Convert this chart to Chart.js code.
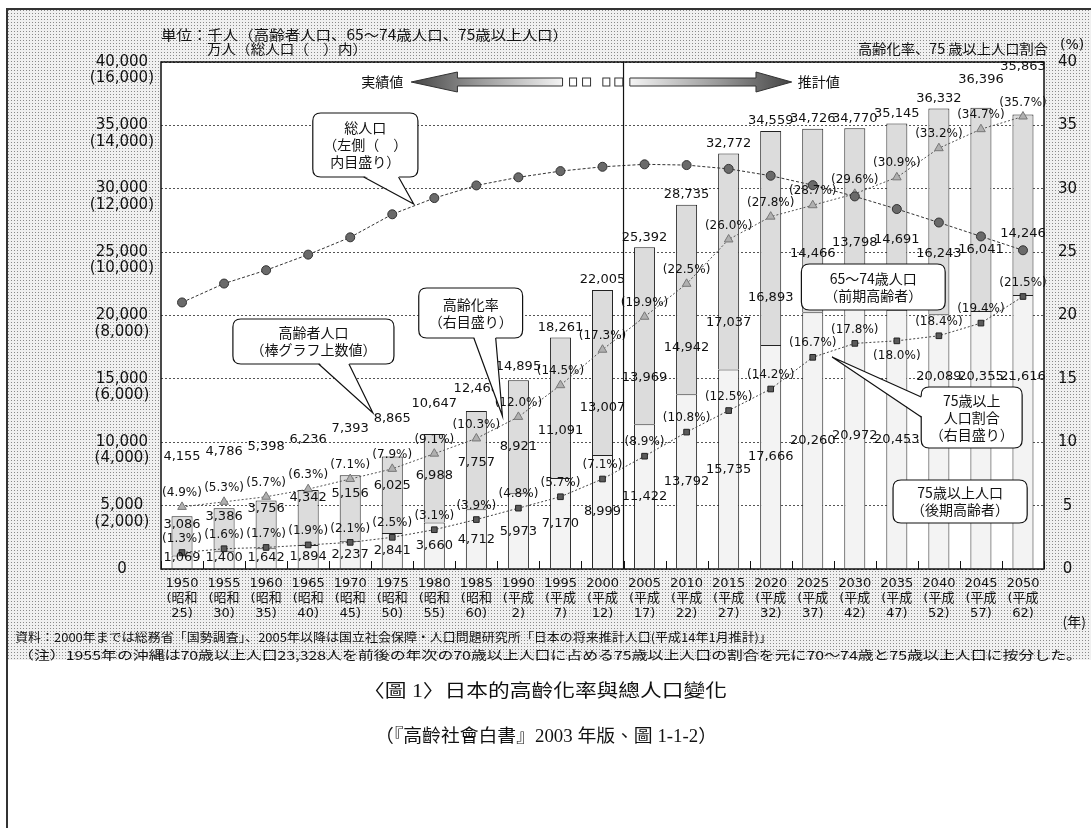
<!DOCTYPE html>
<html><head><meta charset="utf-8">
<script src="https://cdn.jsdelivr.net/npm/chart.js@4.4.1/dist/chart.umd.min.js"></script>
<style>
html,body{margin:0;padding:0;background:#fff;}
#wrap{position:relative;width:1091px;height:828px;overflow:hidden;background:#fff;}
#scan{position:absolute;left:7px;top:9px;width:1084px;height:651px;background-color:#f0f0f0;
 background-image:radial-gradient(#8a8a8a 0.55px, transparent 0.9px);background-size:3px 3px;}
#frame{position:absolute;left:6px;top:8px;width:1090px;height:830px;border-left:2px solid #333;border-top:2px solid #333;}
canvas{position:absolute;left:0;top:0;}
</style></head>
<body><div id="wrap"><div id="scan"></div><div id="frame"></div><canvas id="c" width="1091" height="828"></canvas></div>
<script>
// ---------------- data ----------------
const categories = ['1950','1955','1960','1965','1970','1975','1980','1985','1990','1995','2000','2005','2010','2015','2020','2025','2030','2035','2040','2045','2050'];
const eraNames = ['(昭和','(昭和','(昭和','(昭和','(昭和','(昭和','(昭和','(昭和','(平成','(平成','(平成','(平成','(平成','(平成','(平成','(平成','(平成','(平成','(平成','(平成','(平成'];
const eraYears = ['25)','30)','35)','40)','45)','50)','55)','60)','2)','7)','12)','17)','22)','27)','32)','37)','42)','47)','52)','57)','62)'];
const elderlyTotal = [4155,4786,5398,6236,7393,8865,10647,12468,14895,18261,22005,25392,28735,32772,34559,34726,34770,35145,36332,36396,35863];
const age65to74 = [3086,3386,3756,4342,5156,6025,6988,7757,8921,11091,13007,13969,14942,17037,16893,14466,13798,14691,16243,16041,14246];
const age75plus = [1069,1400,1642,1894,2237,2841,3660,4712,5973,7170,8999,11422,13792,15735,17666,20260,20972,20453,20089,20355,21616];
const agingRate = [4.9,5.3,5.7,6.3,7.1,7.9,9.1,10.3,12.0,14.5,17.3,19.9,22.5,26.0,27.8,28.7,29.6,30.9,33.2,34.7,35.7];
const ratio75plus = [1.3,1.6,1.7,1.9,2.1,2.5,3.1,3.9,4.8,5.7,7.1,8.9,10.8,12.5,14.2,16.7,17.8,18.0,18.4,19.4,21.5];
const totalPop = [8412,9008,9430,9921,10467,11194,11706,12105,12361,12557,12693,12771,12747,12627,12411,12114,11758,11360,10934,10496,10059];
const leftMax = 40000, leftStep = 5000, popMax = 16000;
const rightMax = 40, rightStep = 5;

const FONT = '"DejaVu Sans","Noto Sans CJK JP",sans-serif';
const JFONT = '"Noto Sans CJK JP",sans-serif';
const fmt = v => v.toLocaleString('en-US');
const pct = v => '(' + v.toFixed(1) + '%)';

// label layout hints (not coordinates)
const ratioLabelBelow = [17];

function txt(ctx, s, x, y, font, align, width, color) {
  ctx.save();
  ctx.font = font; ctx.textBaseline = 'middle'; ctx.fillStyle = color || '#111';
  ctx.textAlign = align || 'left';
  if (width) {
    const m = ctx.measureText(s).width;
    ctx.translate(x, y); ctx.scale(width / m, 1); ctx.fillText(s, 0, 0);
  } else ctx.fillText(s, x, y);
  ctx.restore();
}
function rrect(ctx, x, y, w, h, r) {
  ctx.beginPath();
  ctx.moveTo(x + r, y); ctx.lineTo(x + w - r, y); ctx.quadraticCurveTo(x + w, y, x + w, y + r);
  ctx.lineTo(x + w, y + h - r); ctx.quadraticCurveTo(x + w, y + h, x + w - r, y + h);
  ctx.lineTo(x + r, y + h); ctx.quadraticCurveTo(x, y + h, x, y + h - r);
  ctx.lineTo(x, y + r); ctx.quadraticCurveTo(x, y, x + r, y); ctx.closePath();
}

// callouts in scale units: i = category index, v = left-axis value
const callouts = [
  {lines:['総人口','（左側（　）','内目盛り）'], i0:3.11, i1:5.61, v0:35976, v1:30927,
   tail:{a:[4.32,30927], b:[5.15,30927], tip:[5.51,28797]}},
  {lines:['高齢者人口','（棒グラフ上数値）'], i0:1.21, i1:5.04, v0:19724, v1:16174,
   tail:{a:[3.25,16174], b:[3.97,16174], tip:[4.54,12308]}},
  {lines:['高齢化率','（右目盛り）'], i0:5.63, i1:8.10, v0:22170, v1:18225,
   tail:{a:[6.94,18225], b:[7.46,18225], tip:[7.62,12071]}},
  {lines:['65～74歳人口','（前期高齢者）'], i0:14.73, i1:18.15, v0:24063, v1:20434},
  {lines:['75歳以上','人口割合','（右目盛り）'], i0:17.58, i1:19.98, v0:14359, v1:9546,
   tail:{a:[17.58,13570], b:[17.58,11992], tip:[15.46,16726]}},
  {lines:['75歳以上人口','（後期高齢者）'], i0:16.91, i1:20.1, v0:7022, v1:3629}
];

const decor = {
  id: 'decor',
  beforeDraw(chart) {
    const {ctx, chartArea: a} = chart;
    ctx.save(); ctx.fillStyle = '#fff';
    ctx.fillRect(a.left, a.top, a.right - a.left, a.bottom - a.top);
    ctx.restore();
  },
  afterDatasetsDraw(chart) {
    const {ctx, chartArea: a} = chart;
    const xs = chart.scales.x, yL = chart.scales.y, yR = chart.scales.yR;
    const X = i => xs.getPixelForValue(i), Y = v => yL.getPixelForValue(v);
    // frame
    ctx.save();
    ctx.strokeStyle = '#111'; ctx.lineWidth = 1.5;
    ctx.strokeRect(a.left, a.top, a.right - a.left, a.bottom - a.top);
    // separator actual / projection
    const sx = (X(10) + X(11)) / 2;
    ctx.lineWidth = 1.2; ctx.beginPath(); ctx.moveTo(sx, a.top); ctx.lineTo(sx, a.bottom); ctx.stroke();
    // bottom ticks at band edges
    ctx.lineWidth = 1;
    for (let i = 0; i <= categories.length; i++) {
      const bx = Math.round(X(i - 0.5)) + 0.5;
      ctx.beginPath(); ctx.moveTo(bx, a.bottom); ctx.lineTo(bx, a.bottom - 8); ctx.stroke();
    }
    ctx.restore();

    // callout boxes in pixels (for collision)
    const boxes = callouts.map(c => ({x0: X(c.i0), x1: X(c.i1), y0: Y(c.v0), y1: Y(c.v1)}));
    const hits = (cx, cy, w, h) => boxes.find(b => cx + w / 2 > b.x0 && cx - w / 2 < b.x1 && cy + h / 2 > b.y0 && cy - h / 2 < b.y1);
    const avoid = (cx, cy, w, h) => { let b, n = 0; while ((b = hits(cx, cy, w, h)) && n++ < 5) cy = b.y0 - h / 2 - 3; return cy; };
    const placed = [];
    const clash = (cx, cy, w, h) => placed.some(p => Math.abs(p.x - cx) < (p.w + w) / 2 && Math.abs(p.y - cy) < h);

    // data labels
    const nf = '13px ' + FONT, pf = '12px ' + FONT;
    ctx.save(); ctx.font = nf;
    for (let i = 0; i < categories.length; i++) {
      const cx = X(i);
      const top = Y(elderlyTotal[i]), t75 = Y(age75plus[i]), base = a.bottom;
      const agY = yR.getPixelForValue(agingRate[i]);
      const raY = yR.getPixelForValue(ratio75plus[i]);
      // elderly total above bar
      txt(ctx, fmt(elderlyTotal[i]), cx, Math.min(top - 10, agY - 50), nf, 'center');
      // 65-74
      ctx.font = nf;
      let s = fmt(age65to74[i]), w = ctx.measureText(s).width;
      let y1 = Math.max(top + 8, t75 - 47);
      y1 = avoid(cx, y1, w, 14);
      if (clash(cx, y1, w, 14)) y1 -= 14;
      placed.push({x: cx, y: y1, w});
      txt(ctx, s, cx, y1, nf, 'center');
      // 75+
      s = fmt(age75plus[i]); w = ctx.measureText(s).width;
      let y2 = Math.min((t75 + base) / 2, base - 11);
      y2 = avoid(cx, y2, w, 14);
      txt(ctx, s, cx, y2, nf, 'center');
      // percentages
      txt(ctx, pct(agingRate[i]), cx, agY - 14, pf, 'center');
      txt(ctx, pct(ratio75plus[i]), cx, ratioLabelBelow.includes(i) ? raY + 15 : raY - 14, pf, 'center');
    }
    ctx.restore();

    // callouts
    ctx.save();
    callouts.forEach((c, k) => {
      const b = boxes[k];
      ctx.fillStyle = '#fff'; ctx.strokeStyle = '#111'; ctx.lineWidth = 1.2;
      rrect(ctx, b.x0, b.y0, b.x1 - b.x0, b.y1 - b.y0, 8); ctx.fill(); ctx.stroke();
      if (c.tail) {
        const pa = [X(c.tail.a[0]), Y(c.tail.a[1])], pb = [X(c.tail.b[0]), Y(c.tail.b[1])], pt = [X(c.tail.tip[0]), Y(c.tail.tip[1])];
        const inX = pa[0] === pb[0] ? 1.5 : 0, inY = pa[0] === pb[0] ? 0 : -1.5;
        ctx.beginPath(); ctx.moveTo(pa[0] + inX, pa[1] + inY); ctx.lineTo(pt[0], pt[1]); ctx.lineTo(pb[0] + inX, pb[1] + inY); ctx.closePath();
        ctx.fill();
        ctx.beginPath(); ctx.moveTo(pa[0], pa[1]); ctx.lineTo(pt[0], pt[1]); ctx.lineTo(pb[0], pb[1]); ctx.stroke();
      }
      const cy = (b.y0 + b.y1) / 2, lh = 17, n = c.lines.length;
      c.lines.forEach((l, j) => txt(ctx, l, (b.x0 + b.x1) / 2, cy + (j - (n - 1) / 2) * lh, '14px ' + JFONT, 'center'));
    });
    ctx.restore();

    // actual / projection arrows at top
    ctx.save();
    const ay = a.top + 20;
    const lTip = X(5.45), lBase = X(6.55), lEnd = X(9.05);
    let g = ctx.createLinearGradient(lTip, 0, lEnd, 0); g.addColorStop(0, '#444'); g.addColorStop(0.45, '#999'); g.addColorStop(1, '#f4f4f4');
    ctx.fillStyle = g; ctx.strokeStyle = '#333'; ctx.lineWidth = 1;
    ctx.beginPath(); ctx.moveTo(lTip, ay); ctx.lineTo(lBase, ay - 10); ctx.lineTo(lBase, ay - 4); ctx.lineTo(lEnd, ay - 4);
    ctx.lineTo(lEnd, ay + 4); ctx.lineTo(lBase, ay + 4); ctx.lineTo(lBase, ay + 10); ctx.closePath(); ctx.fill(); ctx.stroke();
    ctx.strokeRect(lEnd + 7, ay - 4, 7, 8); ctx.strokeRect(lEnd + 20, ay - 4, 8, 8);
    const rStart = X(10.65), rBase = X(13.65), rTip = X(14.5);
    g = ctx.createLinearGradient(rStart, 0, rTip, 0); g.addColorStop(0, '#f4f4f4'); g.addColorStop(0.55, '#999'); g.addColorStop(1, '#444');
    ctx.fillStyle = g;
    ctx.strokeRect(rStart - 27, ay - 4, 7, 8); ctx.strokeRect(rStart - 15, ay - 4, 8, 8);
    ctx.beginPath(); ctx.moveTo(rTip, ay); ctx.lineTo(rBase, ay - 10); ctx.lineTo(rBase, ay - 4); ctx.lineTo(rStart, ay - 4);
    ctx.lineTo(rStart, ay + 4); ctx.lineTo(rBase, ay + 4); ctx.lineTo(rBase, ay + 10); ctx.closePath(); ctx.fill(); ctx.stroke();
    txt(ctx, '実績値', lTip - 8, ay, '14px ' + JFONT, 'right');
    txt(ctx, '推計値', rTip + 6, ay, '14px ' + JFONT, 'left');
    ctx.restore();
  },
  afterDraw(chart) {
    const {ctx, chartArea: a} = chart;
    // unit header
    txt(ctx, '単位：千人（高齢者人口、65～74歳人口、75歳以上人口）', a.left, 35, '14px ' + JFONT, 'left', 407);
    txt(ctx, '万人（総人口（　）内）', a.left + 46, 49, '14px ' + JFONT, 'left', 160);
    txt(ctx, '高齢化率、75 歳以上人口割合', a.right + 4, 49, '14px ' + JFONT, 'right', 190);
    txt(ctx, '(%)', a.right + 16, 45, '14px ' + FONT, 'left');
    txt(ctx, '(年)', 1086, 622, '14px ' + JFONT, 'right');
    // source notes
    txt(ctx, '資料：2000年までは総務省「国勢調査」、2005年以降は国立社会保障・人口問題研究所「日本の将来推計人口(平成14年1月推計)」', 15, 637, '12px ' + JFONT, 'left', 757);
    txt(ctx, '（注）1955年の沖縄は70歳以上人口23,328人を前後の年次の70歳以上人口に占める75歳以上人口の割合を元に70～74歳と75歳以上人口に按分した。', 18, 655, '12px ' + JFONT, 'left', 1064);
    // caption
    txt(ctx, '〈圖 1〉日本的高齡化率與總人口變化', 545, 692, '18px "Liberation Serif","Noto Sans CJK TC",serif', 'center', 364);
    txt(ctx, '（『高齡社會白書』2003 年版、圖 1-1-2）', 546, 737, '18px "Liberation Serif","Noto Sans CJK TC",serif', 'center', 342);
  }
};

Chart.defaults.font.family = FONT;
Chart.defaults.color = '#111';

new Chart(document.getElementById('c'), {
  type: 'bar',
  data: {
    labels: categories,
    datasets: [
      {type: 'bar', label: '75歳以上人口', data: age75plus, yAxisID: 'y', backgroundColor: '#f3f3f3', borderColor: '#222', borderWidth: 1, borderSkipped: 'start', barPercentage: 0.5, categoryPercentage: 1, order: 2},
      {type: 'bar', label: '65～74歳人口', data: age65to74, yAxisID: 'y', backgroundColor: '#dcdcdc', borderColor: '#222', borderWidth: 1, borderSkipped: 'start', barPercentage: 0.5, categoryPercentage: 1, order: 2},
      {type: 'line', label: '総人口', data: totalPop, yAxisID: 'yPop', borderColor: '#333', borderWidth: 1, borderDash: [3, 2], pointStyle: 'circle', pointRadius: 4.5, pointBackgroundColor: '#6a6a6a', pointBorderColor: '#333', pointBorderWidth: 1, tension: 0, order: 0},
      {type: 'line', label: '高齢化率', data: agingRate, yAxisID: 'yR', borderColor: '#555', borderWidth: 1, borderDash: [2, 2], pointStyle: 'triangle', pointRadius: 5, pointBackgroundColor: '#b0b0b0', pointBorderColor: '#777', pointBorderWidth: 1, tension: 0, order: 0},
      {type: 'line', label: '75歳以上人口割合', data: ratio75plus, yAxisID: 'yR', borderColor: '#444', borderWidth: 1, borderDash: [2, 2], pointStyle: 'rect', pointRadius: 4, pointBackgroundColor: '#5a5a5a', pointBorderColor: '#222', pointBorderWidth: 1, tension: 0, order: 0}
    ]
  },
  options: {
    responsive: false, animation: false, events: [],
    layout: {padding: {top: 62, left: 0, right: 0, bottom: 0}},
    plugins: {legend: {display: false}, tooltip: {enabled: false}, title: {display: false}},
    scales: {
      x: {
        type: 'category', stacked: true, offset: true,
        grid: {display: false, drawTicks: false}, border: {display: false},
        ticks: {autoSkip: false, maxRotation: 0, minRotation: 0, padding: 7, color: '#111', font: {size: 13, lineHeight: 1.15},
          callback: (v, i) => [categories[i], eraNames[i], eraYears[i]]},
        afterFit: s => { s.height = 828 - 569; }
      },
      y: {
        position: 'left', stacked: true, min: 0, max: leftMax,
        grid: {color: '#555', lineWidth: 1, drawTicks: false}, border: {display: false, dash: [2, 2]},
        ticks: {stepSize: leftStep, padding: 7, crossAlign: 'center', labelOffset: 8, color: '#111', font: {size: 15, lineHeight: 1.1},
          callback: v => v === 0 ? ['0', ''] : [fmt(v), '(' + fmt(v * popMax / leftMax) + ')']},
        afterFit: s => { s.width = 161; }
      },
      yR: {
        position: 'right', min: 0, max: rightMax,
        grid: {display: false, drawTicks: false}, border: {display: false},
        ticks: {stepSize: rightStep, padding: 14, crossAlign: 'center', color: '#111', font: {size: 15}},
        afterFit: s => { s.width = 1091 - 1044; }
      },
      yPop: {display: false, min: 0, max: popMax}
    }
  },
  plugins: [decor]
});
</script>
</body></html>
